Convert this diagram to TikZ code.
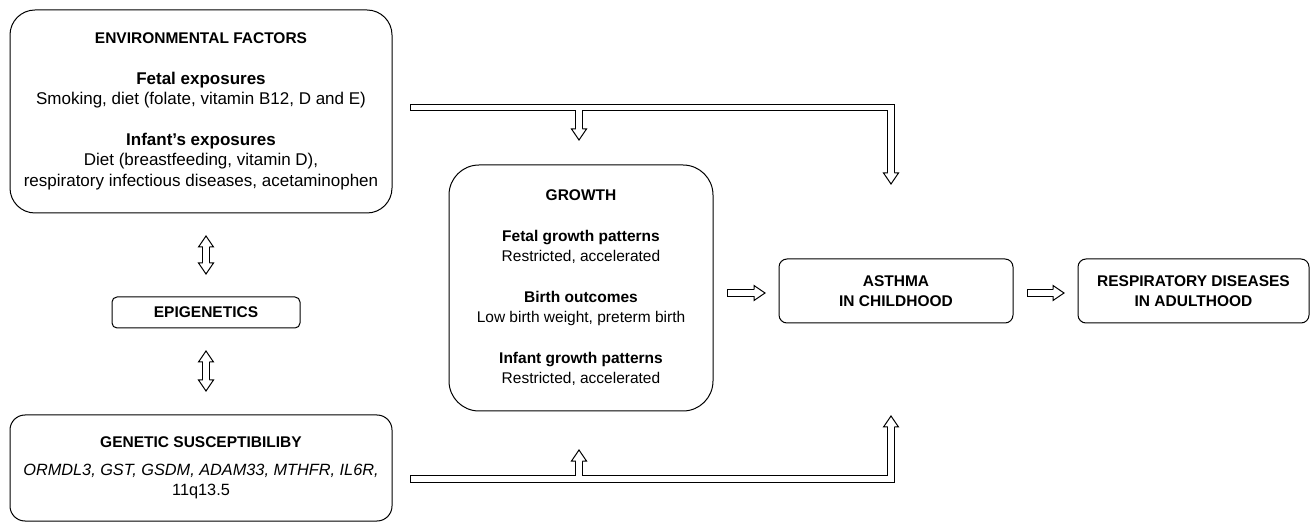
\documentclass[tikz,border=0pt]{standalone}
\usepackage{fontspec}
\setmainfont{Liberation Sans}
\usetikzlibrary{calc}
\newcommand\boxtitle[1]{{\fontsize{15.5}{20}\selectfont\bfseries #1}}
\tikzset{
  box/.style={draw=black, line width=1pt, inner sep=0pt, align=center,
    font=\fontsize{16}{20}\selectfont},
  pipe/.style={draw=black, double=white, double distance=5.5pt, line width=1pt,
    line cap=rect, line join=miter},
  headR/.pic={\fill[white] (0,0)--(-11,7.5)--(-11,-7.5)--cycle;
    \draw[line width=1pt, line join=miter] (-11,3.25)--(-11,7.5)--(0,0)--(-11,-7.5)--(-11,-3.25);},
  headU/.pic={\fill[white] (0,0)--(-7.5,-11)--(7.5,-11)--cycle;
    \draw[line width=1pt, line join=miter] (-3.25,-11)--(-7.5,-11)--(0,0)--(7.5,-11)--(3.25,-11);},
  headD/.pic={\fill[white] (0,0)--(-7.5,11)--(7.5,11)--cycle;
    \draw[line width=1pt, line join=miter] (-3.25,11)--(-7.5,11)--(0,0)--(7.5,11)--(3.25,11);}
}
\begin{document}
\begin{tikzpicture}[x=1pt,y=1pt]
\useasboundingbox (0,0) rectangle (1312,-526);

% boxes
\node[box, rounded corners=25pt, minimum width=382pt, minimum height=203pt,
      font=\fontsize{17}{20.5}\selectfont] (env) at (201,-111.5)
 {\boxtitle{ENVIRONMENTAL FACTORS}\\[20pt]
  \textbf{Fetal exposures}\\
  Smoking, diet (folate, vitamin B12, D and E)\\[20pt]
  \textbf{Infant’s exposures}\\
  Diet (breastfeeding, vitamin D),\\
  respiratory infectious diseases, acetaminophen};

\node[box, rounded corners=5pt, minimum width=188pt, minimum height=31pt] (epi) at (206,-312.5)
 {\boxtitle{EPIGENETICS}};

\node[box, rounded corners=15pt, minimum width=382pt, minimum height=106pt,
      font=\fontsize{16.3}{20.5}\selectfont] (gen) at (201,-468)
 {\boxtitle{GENETIC SUSCEPTIBILIBY}\\[7pt]
  \textit{ORMDL3, GST, GSDM, ADAM33, MTHFR, IL6R,}\\
  11q13.5};

\node[box, rounded corners=30pt, minimum width=264pt, minimum height=246pt,
      font=\fontsize{15.5}{20.5}\selectfont] (gro) at (581,-288)
 {\boxtitle{GROWTH}\\[20pt]
  \textbf{Fetal growth patterns}\\
  Restricted, accelerated\\[20pt]
  \textbf{Birth outcomes}\\
  Low birth weight, preterm birth\\[20pt]
  \textbf{Infant growth patterns}\\
  Restricted, accelerated};

\node[box, rounded corners=8pt, minimum width=234pt, minimum height=64pt] (ast) at (896,-291)
 {\boxtitle{ASTHMA}\\\boxtitle{IN CHILDHOOD}};

\node[box, rounded corners=8pt, minimum width=231pt, minimum height=64pt] (res) at (1193.5,-291)
 {\boxtitle{RESPIRATORY DISEASES}\\\boxtitle{IN ADULTHOOD}};

% connector coordinates
\coordinate (tpL) at (413.75,-107.5);
\coordinate (tpC) at (891,-107.5);
\coordinate (tpE) at (891,-173);
\coordinate (tpT) at (891,-184);
\coordinate (tbS) at (579,-108.5);
\coordinate (tbE) at (579,-129);
\coordinate (tbT) at (579,-140);

\coordinate (bpL) at (413.75,-479);
\coordinate (bpC) at (891,-479);
\coordinate (bpE) at (891,-427);
\coordinate (bpT) at (891,-416);
\coordinate (bbS) at (579,-478);
\coordinate (bbE) at (579,-461);
\coordinate (bbT) at (579,-450);

\coordinate (gaS) at (730.75,-293);
\coordinate (gaE) at (754,-293);
\coordinate (gaT) at (765,-293);
\coordinate (arS) at (1030.75,-293);
\coordinate (arE) at (1053,-293);
\coordinate (arT) at (1064,-293);

\coordinate (u1T) at (206,-236);
\coordinate (u1a) at (206,-247);
\coordinate (u1b) at (206,-263);
\coordinate (u1B) at (206,-274);
\coordinate (u2T) at (206,-351);
\coordinate (u2a) at (206,-362);
\coordinate (u2b) at (206,-380);
\coordinate (u2B) at (206,-391);

% pipes
\draw[pipe] (tpL) -- (tpC) -- (tpE) (tbS) -- (tbE);
\draw[pipe] (bpL) -- (bpC) -- (bpE) (bbS) -- (bbE);
\draw[pipe] (gaS) -- (gaE);
\draw[pipe] (arS) -- (arE);
\draw[pipe] (u1a) -- (u1b);
\draw[pipe] (u2a) -- (u2b);

% heads
\pic at (tpT) {headD};
\pic at (tbT) {headD};
\pic at (bpT) {headU};
\pic at (bbT) {headU};
\pic at (gaT) {headR};
\pic at (arT) {headR};
\pic at (u1T) {headU};
\pic at (u1B) {headD};
\pic at (u2T) {headU};
\pic at (u2B) {headD};
\end{tikzpicture}
\end{document}
